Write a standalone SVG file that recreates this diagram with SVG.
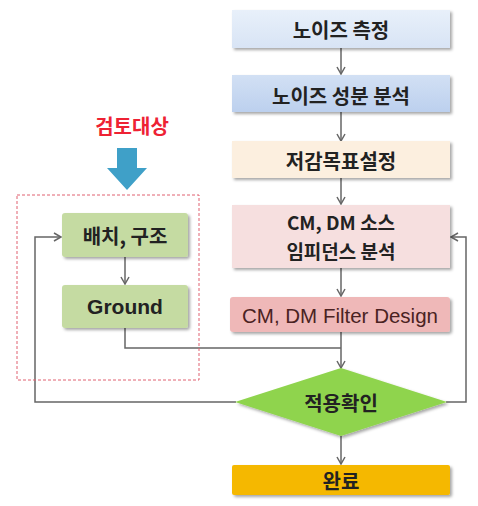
<svg xmlns="http://www.w3.org/2000/svg" width="478" height="506" viewBox="0 0 478 506">
<defs>
<filter id="sh" x="-10%" y="-20%" width="130%" height="160%">
<feDropShadow dx="2" dy="2" stdDeviation="1.8" flood-color="#000" flood-opacity="0.35"/>
</filter>
<marker id="ah" markerWidth="10" markerHeight="10" refX="8" refY="5" orient="auto" markerUnits="userSpaceOnUse">
<path d="M1,1 L8,5 L1,9" fill="none" stroke="#666" stroke-width="1.5"/>
</marker>
<linearGradient id="g1" x1="0" y1="0" x2="0" y2="1"><stop offset="0" stop-color="#e8f0fa"/><stop offset="1" stop-color="#d8e4f5"/></linearGradient>
<linearGradient id="g2" x1="0" y1="0" x2="0" y2="1"><stop offset="0" stop-color="#d2e0f4"/><stop offset="1" stop-color="#bcd0ee"/></linearGradient>
</defs>
<style>
.t{font-family:"Noto Sans CJK KR","Liberation Sans",sans-serif;font-weight:bold;fill:#222;text-anchor:middle;dominant-baseline:central;font-size:20px}
.c{fill:none;stroke:#666;stroke-width:1.5}
</style>
<g id="connectors">
<line class="c" x1="341" y1="48" x2="341" y2="74" marker-end="url(#ah)"/>
<line class="c" x1="341" y1="112" x2="341" y2="141" marker-end="url(#ah)"/>
<line class="c" x1="341" y1="178" x2="341" y2="204" marker-end="url(#ah)"/>
<line class="c" x1="341" y1="268" x2="341" y2="296" marker-end="url(#ah)"/>
<line class="c" x1="341" y1="332" x2="341" y2="368" marker-end="url(#ah)"/>
<line class="c" x1="341" y1="436" x2="341" y2="464" marker-end="url(#ah)"/>
<line class="c" x1="125" y1="257" x2="125" y2="284" marker-end="url(#ah)"/>
<polyline class="c" points="125,328 125,348 341,348"/>
<polyline class="c" points="236,402 35,402 35,237 61,237" marker-end="url(#ah)"/>
<polyline class="c" points="446,402 466,402 466,237 451,237" marker-end="url(#ah)"/>
</g>
<g id="review">
<rect x="17" y="195" width="182" height="185" fill="none" stroke="#e06070" stroke-width="1" stroke-dasharray="3,2"/>
<text class="t" x="132" y="125" style="fill:#ee2233">검토대상</text>
<path d="M117,148 H137 V168 H147 L127,190 L107,168 H117 Z" fill="#3fa0c8"/>
</g>
<g id="n1"><rect x="232" y="10" width="218" height="38" fill="url(#g1)" filter="url(#sh)"/><text class="t" x="341" y="29">노이즈 측정</text></g>
<g id="n2"><rect x="232" y="75" width="218" height="37" fill="url(#g2)" filter="url(#sh)"/><text class="t" x="341" y="95">노이즈 성분 분석</text></g>
<g id="n3"><rect x="232" y="141" width="218" height="37" fill="#fcefdf" filter="url(#sh)"/><text class="t" x="341" y="160">저감목표설정</text></g>
<g id="n4"><rect x="232" y="205" width="218" height="63" fill="#f6dfdf" filter="url(#sh)"/><text class="t" x="341" y="221" style="font-size:19px">CM, DM 소스</text><text class="t" x="341" y="250" style="font-size:19px">임피던스 분석</text></g>
<g id="n5"><rect x="230" y="297" width="220" height="35" rx="3" fill="#efb8b8" filter="url(#sh)"/><text class="t" x="340" y="315" style="font-weight:normal;fill:#4a2222;font-family:'Liberation Sans',sans-serif;font-size:20.5px">CM, DM Filter Design</text></g>
<g id="n6"><polygon points="341,368 447,402 341,436 235,402" fill="#8fd44e" filter="url(#sh)"/><text class="t" x="341" y="402">적용확인</text></g>
<g id="n7"><rect x="232" y="465" width="218" height="30" rx="2" fill="#f5b800" filter="url(#sh)"/><text class="t" x="341" y="480">완료</text></g>
<g id="n8"><rect x="62" y="213" width="126" height="44" rx="3" fill="#c5dba2" filter="url(#sh)"/><text class="t" x="125" y="235">배치, 구조</text></g>
<g id="n9"><rect x="62" y="285" width="126" height="43" rx="3" fill="#c5dba2" filter="url(#sh)"/><text class="t" x="125" y="306" style="font-family:'Liberation Sans',sans-serif;font-size:21px">Ground</text></g>
</svg>
